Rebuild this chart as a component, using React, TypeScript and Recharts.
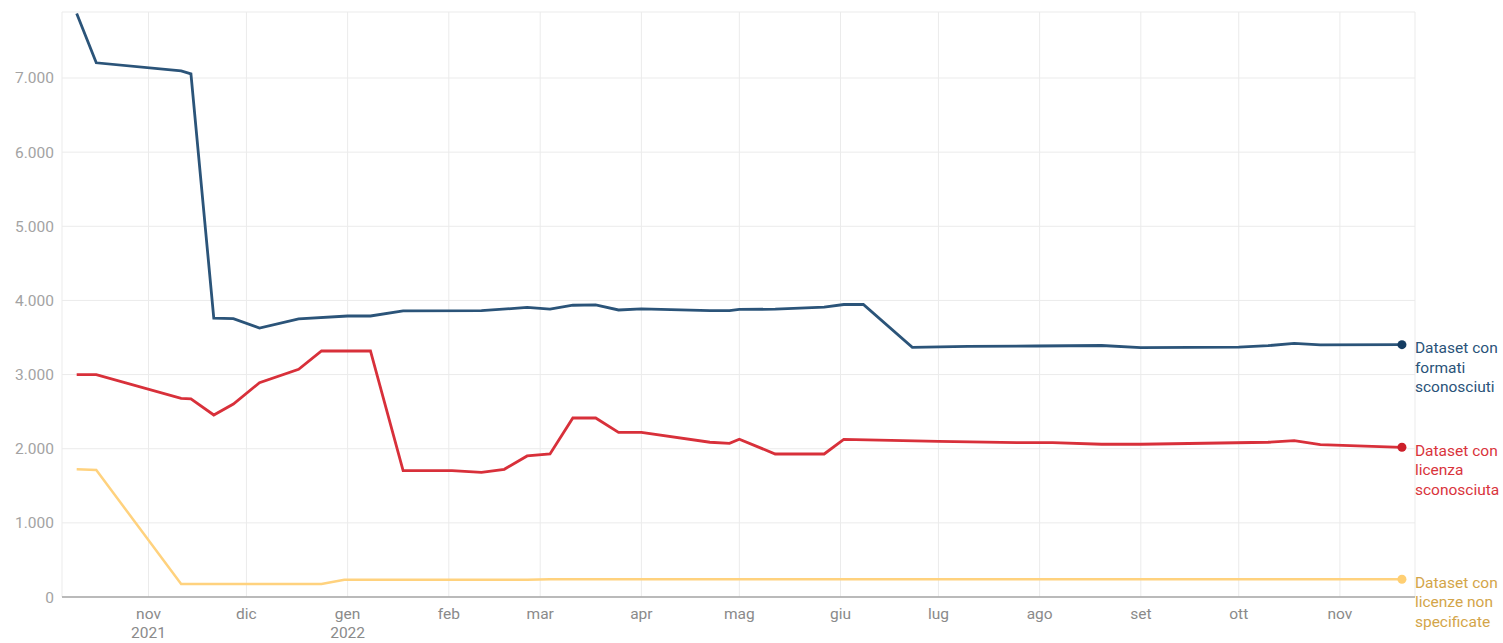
import { CartesianGrid, Line, LineChart, XAxis, YAxis } from 'recharts'

// weekly snapshots
const formatiDates = [
  '2021-10-10', '2021-10-16', '2021-11-11', '2021-11-14', '2021-11-21', '2021-11-27',
  '2021-12-05', '2021-12-17', '2022-01-01', '2022-01-08', '2022-01-18', '2022-02-11',
  '2022-02-25', '2022-03-04', '2022-03-11', '2022-03-18', '2022-03-25', '2022-04-01',
  '2022-04-22', '2022-04-28', '2022-05-01', '2022-05-12', '2022-05-27', '2022-06-02',
  '2022-06-08', '2022-06-23', '2022-07-10', '2022-07-31', '2022-08-20', '2022-09-01',
  '2022-10-01', '2022-10-10', '2022-10-18', '2022-10-26', '2022-11-20',
]
const formatiValues = [
  7870, 7205, 7095, 7055, 3760, 3755,
  3628, 3750, 3790, 3790, 3858, 3862,
  3905, 3884, 3935, 3939, 3871, 3885,
  3862, 3862, 3878, 3882, 3910, 3945,
  3945, 3368, 3380, 3385, 3392, 3363,
  3370, 3390, 3420, 3400, 3403,
]

const licenzaDates = [
  '2021-10-10', '2021-10-16', '2021-11-11', '2021-11-14', '2021-11-21', '2021-11-27',
  '2021-12-05', '2021-12-17', '2021-12-24', '2022-01-08', '2022-01-18', '2022-02-02',
  '2022-02-11', '2022-02-18', '2022-02-25', '2022-03-04', '2022-03-11', '2022-03-18',
  '2022-03-25', '2022-04-01', '2022-04-22', '2022-04-28', '2022-05-01', '2022-05-12',
  '2022-05-27', '2022-06-02', '2022-07-01', '2022-07-25', '2022-08-05', '2022-08-20',
  '2022-09-01', '2022-10-10', '2022-10-18', '2022-10-26', '2022-11-20',
]
const licenzaValues = [
  2998, 2998, 2680, 2671, 2455, 2603,
  2890, 3071, 3318, 3318, 1704, 1704,
  1682, 1722, 1902, 1929, 2414, 2414,
  2221, 2221, 2087, 2073, 2127, 1929,
  1929, 2127, 2100, 2081, 2081, 2060,
  2060, 2087, 2108, 2054, 2019,
]

const nonSpecDates = [
  '2021-10-10', '2021-10-16', '2021-11-11', '2021-12-24', '2021-12-31',
  '2022-02-25', '2022-03-04', '2022-11-20',
]
const nonSpecValues = [1722, 1713, 175, 175, 233, 233, 240, 240]

const monthTicks = [
  '2021-11-01', '2021-12-01', '2022-01-01', '2022-02-01', '2022-03-01', '2022-04-01',
  '2022-05-01', '2022-06-01', '2022-07-01', '2022-08-01', '2022-09-01', '2022-10-01',
  '2022-11-01',
]
const monthLabels = ['nov', 'dic', 'gen', 'feb', 'mar', 'apr', 'mag', 'giu', 'lug', 'ago', 'set', 'ott', 'nov']
const yearLabels = ['2021', '', '2022', '', '', '', '', '', '', '', '', '', '']

const yTicks = [0, 1000, 2000, 3000, 4000, 5000, 6000, 7000]

const toT = (s: string) => Date.parse(s + 'T00:00:00Z')
const DAY = 86400000

const series = [
  {
    key: 'formati',
    dates: formatiDates,
    values: formatiValues,
    stroke: '#2b5479',
    dotColor: '#143c62',
    textColor: '#2a5379',
    label: ['Dataset con', 'formati', 'sconosciuti'],
    width: 2.8,
  },
  {
    key: 'licenza',
    dates: licenzaDates,
    values: licenzaValues,
    stroke: '#d8303a',
    dotColor: '#cc1f2a',
    textColor: '#d9343c',
    label: ['Dataset con', 'licenza', 'sconosciuta'],
    width: 2.8,
  },
  {
    key: 'nonspec',
    dates: nonSpecDates,
    values: nonSpecValues,
    stroke: '#ffd27e',
    dotColor: '#ffcf73',
    textColor: '#d3a549',
    label: ['Dataset con', 'licenze non', 'specificate'],
    width: 2.5,
  },
]

const tickTimes = monthTicks.map(toT)

const MonthTick = ({ x, y, payload }: any) => {
  const i = tickTimes.indexOf(payload.value)
  return (
    <text x={x} y={y} textAnchor="middle" fill="#8a8a8a" fontSize={15.5} fontFamily="Roboto">
      <tspan x={x} dy={14}>{monthLabels[i]}</tspan>
      {yearLabels[i] && <tspan x={x} dy={19}>{yearLabels[i]}</tspan>}
    </text>
  )
}

export default function App() {
  const domainX = [toT('2021-11-01') - 26.5 * DAY, toT('2021-11-01') + 388 * DAY]

  return (
    <div style={{ position: 'absolute', left: 0, top: 0, width: 1503, height: 643, background: '#fff' }}>
      <LineChart width={1503} height={643} margin={{ top: 12, right: 88, bottom: 0, left: 0 }}>
        <CartesianGrid stroke="#ebebeb" strokeWidth={1} />
        <XAxis
          type="number"
          dataKey="t"
          domain={domainX}
          ticks={tickTimes}
          tick={<MonthTick />}
          tickLine={false}
          axisLine={{ stroke: '#a6a6a6', strokeWidth: 1.5 }}
          height={46}
          interval={0}
        />
        <YAxis
          type="number"
          domain={[0, 7890]}
          ticks={yTicks}
          tickFormatter={(v: number) => v.toLocaleString('it-IT').replace(/\s/g, '.')}
          tick={{ fill: '#a3a3a3', fontSize: 15.5, fontFamily: 'Roboto' }}
          tickLine={false}
          axisLine={false}
          width={62}
          interval={0}
        />
        {series.map((s) => {
          const data = s.dates.map((d, i) => ({ t: toT(d), v: s.values[i] }))
          const last = data.length - 1
          return (
            <Line
              key={s.key}
              data={data}
              dataKey="v"
              type="linear"
              stroke={s.stroke}
              strokeWidth={s.width}
              isAnimationActive={false}
              activeDot={false}
              dot={(p: any) =>
                p.index === last ? (
                  <g key={`${s.key}-end`}>
                    <circle cx={p.cx} cy={p.cy} r={4.5} fill={s.dotColor} />
                    <text x={p.cx + 13} y={p.cy + 8.5} fill={s.textColor} fontSize={15.5} fontFamily="Roboto">
                      {s.label.map((line, j) => (
                        <tspan key={j} x={p.cx + 13} dy={j === 0 ? 0 : 19.5}>
                          {line}
                        </tspan>
                      ))}
                    </text>
                  </g>
                ) : (
                  <g key={`${s.key}-${p.index}`} />
                )
              }
            />
          )
        })}
      </LineChart>
    </div>
  )
}
